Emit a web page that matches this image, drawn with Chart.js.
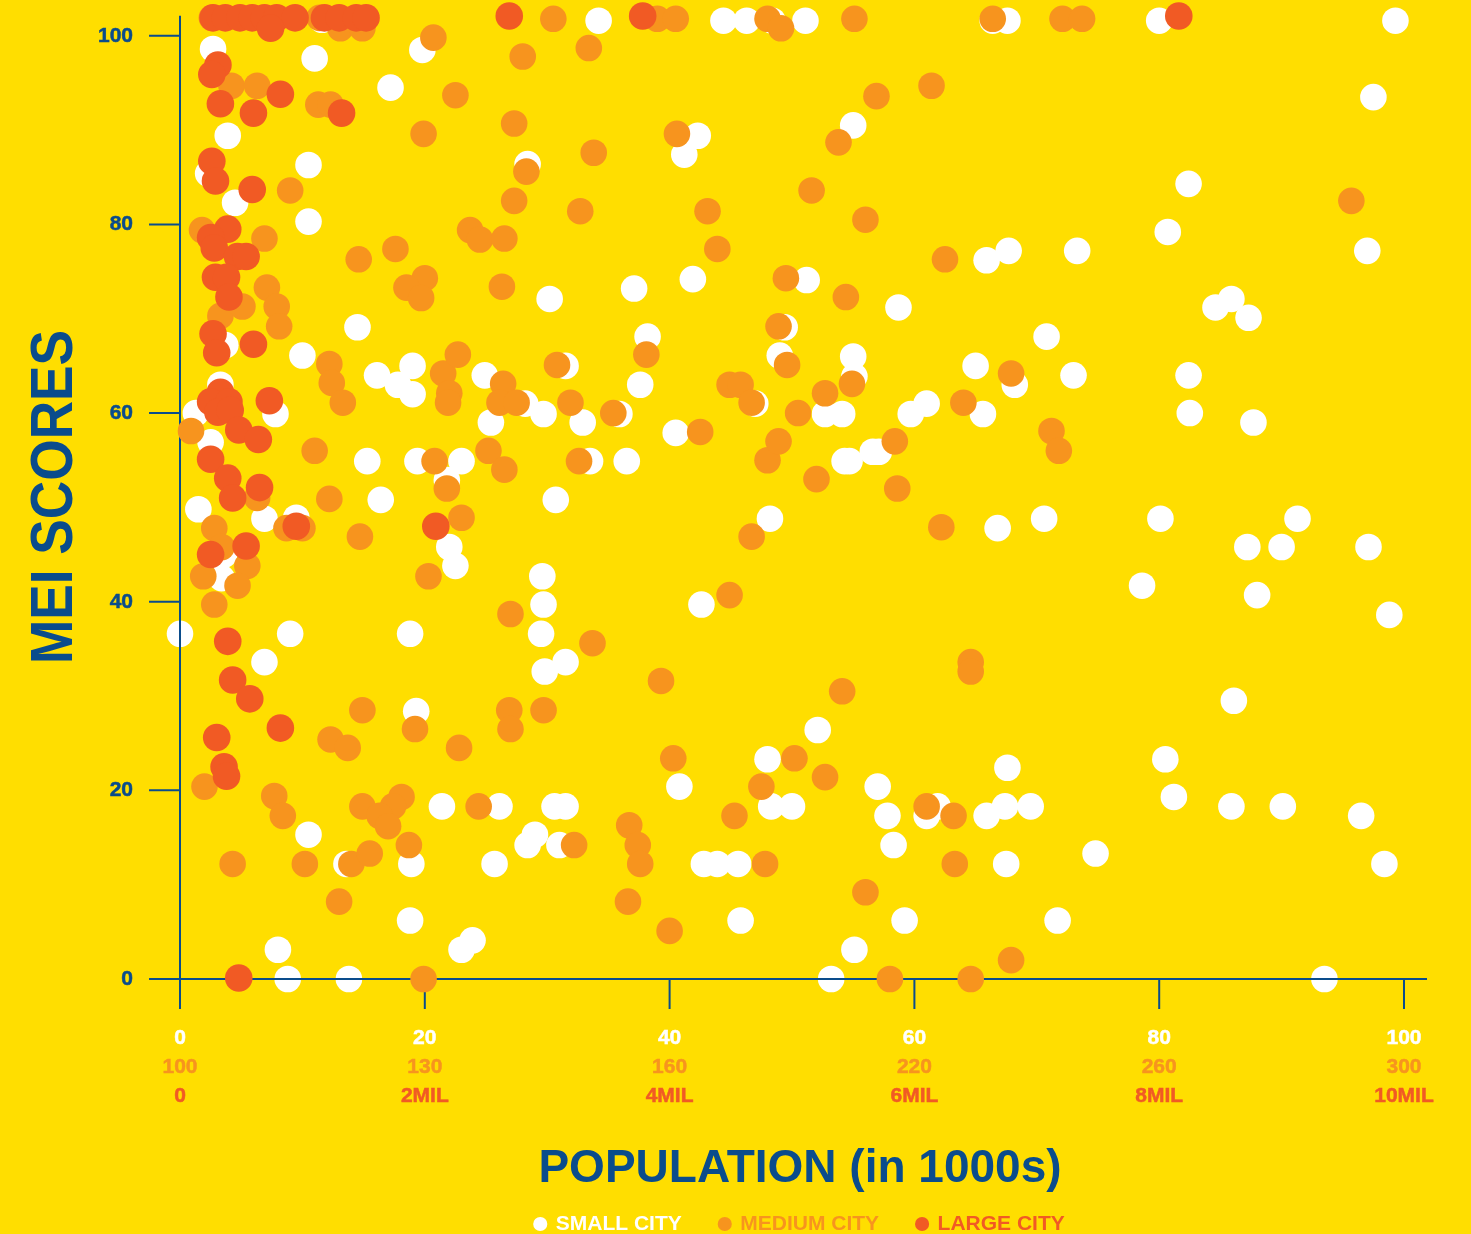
<!DOCTYPE html>
<html>
<head>
<meta charset="utf-8">
<title>MEI scores by population</title>
<script src="https://cdn.jsdelivr.net/npm/chart.js@4/dist/chart.umd.min.js"></script>
<style>
    html, body { margin: 0; padding: 0; background: #ffde00; }
    canvas { display: block; }
</style>
</head>
<body>
<canvas id="chart" width="1471" height="1234"></canvas>
<script>
// population (x) is on one axis for all three groups, only the tick labels differ
const xTicks = [0, 20, 40, 60, 80, 100];
const yTicks = [0, 20, 40, 60, 80, 100];
const smallLabels = ['0', '20', '40', '60', '80', '100'];
const mediumLabels = ['100', '130', '160', '220', '260', '300'];
const largeLabels = ['0', '2MIL', '4MIL', '6MIL', '8MIL', '10MIL'];
const legendNames = ['SMALL CITY', 'MEDIUM CITY', 'LARGE CITY'];

const smallPop = [11.6, 34.2, 44.4, 46.3, 48.4, 51.1, 66.4, 67.6, 80.0, 99.3, 2.7, 19.8, 11.0, 17.2, 3.9, 10.5, 2.3, 4.5, 10.5, 28.4, 41.2, 42.3, 55.0, 82.4, 80.7, 65.9, 67.7, 73.3, 41.9, 51.2, 37.1, 30.2, 58.7, 14.5, 3.7, 38.2, 70.8, 84.6, 85.9, 87.3, 97.0, 97.5, 10.0, 16.1, 19.0, 17.8, 19.0, 3.3, 1.3, 7.8, 2.5, 24.9, 28.2, 25.4, 29.7, 31.5, 32.9, 33.5, 36.5, 35.9, 37.6, 40.5, 47.0, 49.0, 49.4, 52.7, 54.1, 55.0, 55.1, 59.7, 61.0, 65.0, 65.6, 68.2, 73.0, 82.4, 82.5, 87.7, 15.3, 19.4, 23.0, 16.4, 1.5, 6.9, 9.5, 21.8, 22.0, 22.5, 30.7, 56.6, 57.1, 54.3, 54.7, 48.2, 66.8, 70.6, 80.1, 91.3, 87.2, 90.0, 97.1, 78.6, 88.0, 98.8, 29.6, 29.7, 29.5, 29.8, 31.5, 42.6, 0, 9.0, 18.8, 6.9, 3.4, 3.6, 19.3, 86.1, 52.1, 48.0, 57.0, 80.5, 81.2, 67.6, 40.8, 48.3, 50.0, 30.6, 31.5, 21.4, 26.1, 67.4, 69.5, 85.9, 90.1, 61.9, 61.0, 57.8, 65.9, 96.5, 10.5, 29.0, 28.4, 31.0, 58.3, 74.8, 13.6, 18.9, 25.7, 42.8, 43.9, 45.6, 67.5, 98.4, 18.8, 45.8, 59.2, 71.7, 8.0, 23.0, 23.9, 55.1, 8.8, 13.8, 53.2, 93.5];
const smallMei = [101.7, 101.6, 101.6, 101.6, 101.6, 101.6, 101.6, 101.6, 101.6, 101.6, 98.6, 98.5, 97.6, 94.5, 89.4, 86.3, 85.4, 82.3, 80.3, 86.4, 87.4, 89.4, 90.5, 84.3, 79.2, 76.2, 77.2, 77.2, 74.2, 74.1, 73.2, 72.1, 71.2, 69.1, 67.2, 68.1, 68.1, 71.2, 72.1, 70.1, 77.2, 93.5, 66.1, 64.0, 65.0, 63.0, 62.0, 63.0, 60.0, 59.9, 56.9, 64.0, 61.0, 59.0, 59.9, 65.0, 59.0, 54.9, 54.9, 59.9, 63.0, 57.9, 61.0, 66.1, 69.1, 59.9, 59.9, 66.0, 63.9, 59.9, 61.0, 65.0, 59.9, 63.0, 64.0, 64.0, 60.0, 59.0, 54.9, 54.9, 54.9, 50.8, 49.8, 48.8, 48.9, 52.9, 45.8, 43.8, 50.8, 55.9, 55.9, 54.9, 54.9, 48.8, 47.8, 48.8, 48.8, 48.8, 45.8, 45.8, 45.8, 41.7, 40.7, 38.6, 42.7, 39.7, 36.6, 32.6, 33.6, 39.7, 36.6, 36.6, 36.6, 33.6, 42.5, 45.0, 28.4, 29.5, 26.4, 23.3, 20.4, 23.3, 19.3, 22.4, 20.4, 18.3, 18.3, 18.3, 18.3, 18.3, 18.3, 18.3, 18.3, 18.3, 18.3, 18.3, 17.3, 17.3, 17.3, 17.3, 15.3, 15.3, 14.2, 14.2, 14.2, 13.3, 12.2, 12.2, 12.2, 12.2, 12.2, 12.2, 12.2, 12.2, 6.2, 6.2, 6.2, 6.2, 3.1, 3.1, 4.1, 3.1, 0, 0, 0, 0];

const mediumPop = [2.6, 11.4, 13.1, 14.9, 20.7, 30.5, 33.4, 28.0, 39.0, 40.5, 48.0, 49.1, 55.1, 66.4, 72.1, 73.7, 4.2, 6.3, 11.3, 12.3, 19.9, 22.5, 27.3, 33.8, 40.6, 53.8, 56.9, 61.4, 28.3, 27.3, 9.0, 32.7, 43.1, 51.6, 56.0, 95.7, 1.8, 6.9, 14.6, 17.6, 23.7, 24.5, 26.5, 43.9, 62.5, 7.1, 20.0, 18.5, 19.7, 26.3, 49.5, 54.4, 3.3, 5.1, 7.9, 8.1, 48.9, 49.6, 12.2, 12.4, 13.3, 21.5, 22.7, 22.0, 21.9, 26.4, 26.1, 27.5, 30.8, 38.1, 31.9, 35.4, 44.9, 45.8, 46.7, 50.5, 52.7, 54.9, 64.0, 67.9, 0.9, 11.0, 20.8, 25.2, 26.5, 32.6, 42.5, 48.0, 48.9, 52.0, 58.4, 58.6, 71.2, 71.8, 21.8, 23.0, 12.2, 6.3, 2.8, 3.4, 8.7, 10.0, 14.7, 46.7, 62.2, 5.5, 1.9, 4.7, 2.8, 20.3, 27.0, 44.9, 33.7, 39.3, 64.6, 64.6, 54.1, 14.9, 26.9, 29.7, 19.2, 27.0, 12.3, 13.7, 22.8, 40.3, 50.2, 52.7, 47.5, 2.0, 7.7, 8.4, 18.1, 17.4, 14.9, 24.4, 45.3, 63.2, 16.3, 17.0, 36.7, 37.4, 18.7, 32.2, 37.6, 4.3, 10.2, 14.0, 47.8, 63.3, 15.5, 56.0, 13.0, 36.6, 40.0, 67.9, 19.9, 58.0, 64.6, 61.0];
const mediumMei = [101.9, 101.9, 100.8, 100.8, 99.8, 101.8, 98.7, 97.8, 101.8, 101.8, 101.8, 100.8, 101.8, 101.8, 101.8, 101.8, 94.7, 94.7, 92.7, 92.7, 89.6, 93.7, 90.7, 87.6, 89.6, 88.7, 93.6, 94.7, 85.6, 82.5, 83.6, 81.4, 81.4, 83.6, 80.5, 82.5, 79.4, 78.5, 76.3, 77.4, 79.4, 78.4, 78.5, 77.4, 76.3, 73.3, 74.3, 73.3, 72.2, 73.4, 74.3, 72.3, 70.3, 71.3, 71.3, 69.2, 69.2, 65.1, 65.2, 63.2, 61.1, 64.2, 66.2, 62.1, 61.1, 63.1, 61.1, 61.1, 65.1, 66.2, 61.1, 60.0, 63.0, 63.0, 61.1, 60.0, 62.1, 63.1, 61.1, 64.2, 58.1, 56.0, 54.9, 56.0, 54.0, 54.9, 58.0, 55.0, 57.0, 53.0, 57.0, 52.0, 58.1, 56.0, 52.0, 48.9, 50.9, 51.0, 47.8, 45.8, 47.8, 47.8, 46.9, 46.9, 47.9, 43.8, 42.7, 41.7, 39.7, 42.7, 38.7, 40.7, 35.6, 31.6, 33.6, 32.6, 30.5, 28.5, 28.5, 28.5, 26.5, 26.5, 25.4, 24.5, 24.5, 23.4, 23.4, 21.4, 20.4, 20.4, 19.4, 17.3, 19.3, 18.3, 18.3, 18.3, 17.3, 17.3, 17.3, 16.2, 16.3, 14.2, 14.2, 14.2, 12.2, 12.2, 12.2, 12.2, 12.2, 12.2, 13.3, 9.2, 8.2, 8.2, 5.1, 2.0, 0, 0, 0, 18.3];

const largePop = [2.7, 3.7, 4.9, 5.9, 6.9, 7.9, 9.4, 11.8, 13.0, 14.4, 15.2, 7.4, 26.9, 37.8, 81.6, 3.1, 2.6, 3.3, 8.2, 6.0, 13.2, 2.6, 2.9, 5.9, 3.9, 2.5, 2.8, 4.7, 5.4, 2.9, 3.8, 4.0, 2.7, 3.0, 6.0, 3.3, 2.5, 4.0, 3.1, 4.1, 4.8, 6.4, 7.3, 2.5, 3.9, 6.5, 4.3, 9.5, 2.5, 5.4, 20.9, 3.9, 4.3, 5.7, 8.2, 3.0, 3.6, 3.8, 4.8];
const largeMei = [101.9, 101.9, 101.9, 101.9, 101.9, 101.9, 101.9, 101.9, 101.9, 101.9, 101.9, 100.8, 102.1, 102.1, 102.1, 96.9, 95.9, 92.8, 93.8, 91.8, 91.8, 86.7, 84.6, 83.7, 79.5, 78.6, 77.5, 76.6, 76.6, 74.4, 74.4, 72.3, 68.4, 66.4, 67.3, 62.2, 61.2, 61.2, 60.1, 60.3, 58.2, 57.2, 61.3, 55.1, 53.1, 52.1, 51.0, 48.0, 45.0, 45.9, 48.0, 35.8, 31.7, 29.7, 26.6, 25.6, 22.5, 21.5, 0.1];

// ends of the drawn axis lines, the scales run a bit further than these
const axisEnds = { xLo: -2.53, xHi: 101.88, yLo: -3.18, yHi: 102.12 };

const BLUE = '#0a4c8c';
const WHITE = '#ffffff';
const ORANGE = '#f7941e';
const RED = '#f15a24';
const FONT = '"Liberation Sans", Arial, sans-serif';

function toPoints(xs, ys) {
    return xs.map((x, i) => ({ x: x, y: ys[i] }));
}

// white dots sit under the axis lines, orange and red on top
const axisLines = {
    id: 'axisLines',
    afterDatasetDraw(chart, args) {
        if (args.index !== 0) return;
        const { ctx, scales: { x, y } } = chart;
        const x0 = x.getPixelForValue(0);
        const y0 = y.getPixelForValue(0);
        const xLo = x.getPixelForValue(axisEnds.xLo);
        const yLo = y.getPixelForValue(axisEnds.yLo);
        ctx.save();
        ctx.strokeStyle = BLUE;
        ctx.lineWidth = 2;
        ctx.beginPath();
        ctx.moveTo(xLo, y0);
        ctx.lineTo(x.getPixelForValue(axisEnds.xHi), y0);
        ctx.moveTo(x0, y.getPixelForValue(axisEnds.yHi));
        ctx.lineTo(x0, yLo);
        xTicks.forEach(v => {
            const px = x.getPixelForValue(v);
            ctx.moveTo(px, y0);
            ctx.lineTo(px, yLo);
        });
        yTicks.forEach(v => {
            const py = y.getPixelForValue(v);
            ctx.moveTo(xLo, py);
            ctx.lineTo(x0, py);
        });
        ctx.stroke();
        ctx.restore();
    }
};

// the reference title is narrower than the font, so it gets squeezed a little
const meiTitle = {
    id: 'meiTitle',
    afterDraw(chart) {
        const { ctx } = chart;
        ctx.save();
        ctx.translate(55, 497);
        ctx.rotate(-Math.PI / 2);
        ctx.scale(0.887, 1);
        ctx.font = 'bold 60px ' + FONT;
        ctx.fillStyle = BLUE;
        ctx.textAlign = 'center';
        ctx.textBaseline = 'middle';
        ctx.fillText('MEI SCORES', 0, 0);
        ctx.restore();
    }
};

function popAxis(labels, color, weight, height, pad, title) {
    return {
        type: 'linear',
        position: 'bottom',
        axis: 'x',
        weight: weight,
        min: -2.533,
        max: 103.84,
        grid: { display: false, drawTicks: false },
        border: { display: false },
        afterBuildTicks: s => { s.ticks = xTicks.map(v => ({ value: v })); },
        afterFit: s => {
            s.height = height;
            s.paddingLeft = 0;
            s.paddingRight = 0;
        },
        ticks: {
            autoSkip: false,
            maxRotation: 0,
            padding: pad,
            color: color,
            textStrokeColor: color,
            textStrokeWidth: 0.5,
            font: { family: FONT, size: 21, weight: 'bold', lineHeight: 1 },
            callback: (v, i) => labels[i]
        },
        title: title || { display: false }
    };
}

new Chart(document.getElementById('chart'), {
    type: 'scatter',
    data: {
        datasets: [
            { label: legendNames[0], data: toPoints(smallPop, smallMei), backgroundColor: WHITE, pointRadius: 13.3, borderWidth: 0, order: 2, clip: false },
            { label: legendNames[1], data: toPoints(mediumPop, mediumMei), backgroundColor: ORANGE, pointRadius: 13.3, borderWidth: 0, order: 1, clip: false },
            { label: legendNames[2], data: toPoints(largePop, largeMei), backgroundColor: RED, pointRadius: 13.8, borderWidth: 0, order: 0, clip: false }
        ]
    },
    options: {
        responsive: false,
        animation: false,
        events: [],
        layout: {
            padding: { left: 0, right: 20, top: 0, bottom: 0 }
        },
        plugins: {
            tooltip: { enabled: false },
            legend: {
                position: 'bottom',
                fullSize: false,
                maxHeight: 58.5,
                labels: {
                    usePointStyle: true,
                    boxWidth: 10,
                    boxHeight: 10,
                    padding: 38,
                    font: { family: FONT, size: 21, weight: 'bold' },
                    generateLabels: () => legendNames.map((name, i) => ({
                        text: name,
                        fontColor: [WHITE, ORANGE, RED][i],
                        fillStyle: [WHITE, ORANGE, RED][i],
                        strokeStyle: [WHITE, ORANGE, RED][i],
                        lineWidth: 0,
                        pointStyle: 'circle',
                        hidden: false,
                        datasetIndex: i
                    }))
                }
            }
        },
        scales: {
            x: popAxis(smallLabels, WHITE, 1, 40, 18.5),
            x2: popAxis(mediumLabels, ORANGE, 2, 28.5, 7.5),
            x3: popAxis(largeLabels, RED, 3, 98, 8, {
                display: true,
                text: 'POPULATION (in 1000s)',
                color: BLUE,
                font: { family: FONT, size: 46, weight: 'bold', lineHeight: 1 },
                padding: { top: 0, bottom: -16.5 }
            }),
            y: {
                type: 'linear',
                position: 'left',
                min: -3.18,
                max: 102.33,
                grid: { display: false, drawTicks: false },
                border: { display: false },
                afterBuildTicks: s => { s.ticks = yTicks.map(v => ({ value: v })); },
                afterFit: s => {
                    s.width = 149;
                    s.paddingTop = 0;
                    s.paddingBottom = 0;
                },
                ticks: {
                    autoSkip: false,
                    padding: 16,
                    color: BLUE,
                    textStrokeColor: BLUE,
                    textStrokeWidth: 0.5,
                    font: { family: FONT, size: 21, weight: 'bold' }
                }
            }
        }
    },
    plugins: [axisLines, meiTitle]
});
</script>
</body>
</html>
